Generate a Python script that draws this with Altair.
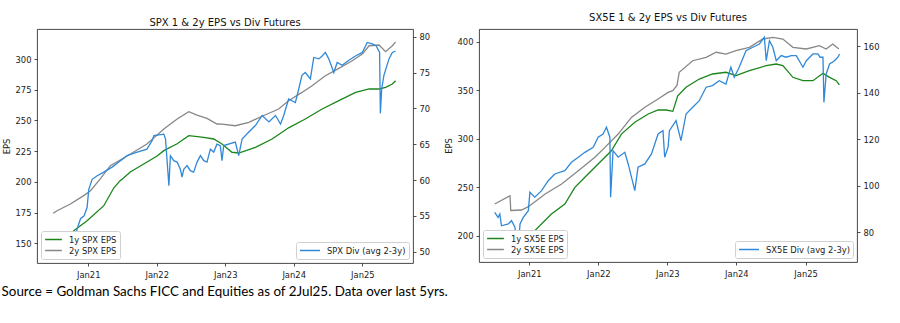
import altair as alt
import pandas as pd

# ---------------- SPX panel data ----------------
spx_eps1_dates = ["2020-06-28", "2020-08-15", "2020-10-16", "2020-12-26", "2021-03-25", "2021-05-17",
                  "2021-06-20", "2021-07-07", "2021-08-13", "2021-10-24", "2022-01-03", "2022-02-08",
                  "2022-04-20", "2022-06-21", "2022-09-09", "2022-11-01", "2022-12-15", "2023-02-06",
                  "2023-03-14", "2023-06-11", "2023-09-08", "2023-12-05", "2024-03-03", "2024-06-01",
                  "2024-08-29", "2024-11-26", "2025-02-06", "2025-03-31", "2025-05-05", "2025-06-10",
                  "2025-06-27"]
spx_eps1 = [143.0, 150.0, 160.3, 168.4, 180.6, 195.0, 201.0, 203.0, 208.0, 214.5, 221.0, 225.4,
            231.0, 237.6, 236.3, 234.9, 230.8, 224.1, 223.5, 228.1, 234.9, 244.0, 251.2, 259.3,
            266.1, 272.9, 275.6, 275.6, 277.0, 279.6, 282.3]

spx_eps2_dates = ["2020-06-28", "2020-07-19", "2020-09-28", "2020-12-08", "2021-01-13", "2021-03-05",
                  "2021-04-29", "2021-08-14", "2021-11-10", "2022-02-08", "2022-04-20", "2022-06-21",
                  "2022-08-04", "2022-09-26", "2022-11-18", "2022-12-15", "2023-02-24", "2023-05-07",
                  "2023-07-17", "2023-10-13", "2023-12-05", "2024-02-14", "2024-04-08", "2024-06-18",
                  "2024-08-29", "2024-11-08", "2025-01-01", "2025-02-06", "2025-03-31", "2025-05-05",
                  "2025-06-10", "2025-06-27"]
spx_eps2 = [174.4, 176.5, 182.0, 188.8, 192.8, 202.3, 213.2, 222.7, 230.8, 243.0, 251.2, 257.1,
            254.4, 251.7, 247.1, 247.0, 245.7, 248.5, 253.4, 259.3, 266.1, 272.8, 278.3, 286.4,
            292.4, 298.6, 304.0, 310.8, 311.4, 306.0, 310.8, 314.0]

spx_div_dates = ["2020-07-01", "2020-07-14", "2020-08-06", "2020-08-31", "2020-09-28", "2020-10-18",
                 "2020-11-03", "2020-11-21", "2020-12-10", "2020-12-26", "2021-01-04", "2021-01-22",
                 "2021-02-18", "2021-03-25", "2021-05-08", "2021-06-22", "2021-07-27", "2021-09-19",
                 "2021-11-10", "2021-12-08", "2021-12-17", "2022-01-12", "2022-02-08", "2022-02-17",
                 "2022-03-07", "2022-03-15", "2022-04-02", "2022-04-20", "2022-05-07", "2022-05-16",
                 "2022-05-25", "2022-06-12", "2022-06-29", "2022-07-17", "2022-08-04", "2022-08-22",
                 "2022-09-09", "2022-09-26", "2022-10-14", "2022-11-01", "2022-11-18", "2022-12-06",
                 "2022-12-15", "2022-12-24", "2023-02-24", "2023-03-14", "2023-04-01", "2023-05-07",
                 "2023-06-11", "2023-07-17", "2023-08-22", "2023-09-26", "2023-10-23", "2023-11-09",
                 "2023-12-05", "2024-01-10", "2024-01-28", "2024-02-14", "2024-03-03", "2024-03-30",
                 "2024-04-17", "2024-05-14", "2024-06-01", "2024-06-18", "2024-07-06", "2024-08-02",
                 "2024-08-20", "2024-09-15", "2024-10-21", "2024-11-26", "2025-01-01", "2025-01-27",
                 "2025-02-23", "2025-03-16", "2025-04-03", "2025-04-07", "2025-04-14", "2025-04-26",
                 "2025-05-23", "2025-06-10", "2025-06-27"]
spx_div = [51.3, 52.0, 50.1, 51.5, 52.0, 51.2, 53.2, 54.6, 55.0, 56.2, 58.7, 60.1,
           60.6, 61.1, 61.8, 62.7, 63.4, 63.9, 64.3, 65.5, 66.2, 66.3, 66.4, 65.7,
           59.2, 63.4, 62.7, 62.5, 61.5, 60.4, 61.5, 62.0, 61.3, 61.1, 62.5, 63.4,
           62.7, 62.5, 64.3, 63.9, 65.0, 64.8, 62.7, 64.8, 65.3, 63.4, 65.7, 66.7,
           67.6, 69.0, 68.1, 69.0, 67.8, 69.0, 71.3, 70.8, 72.7, 74.6, 75.0, 74.1,
           77.1, 76.9, 77.3, 77.8, 76.9, 75.0, 76.4, 76.0, 76.7, 77.3, 77.8, 79.2,
           79.0, 78.7, 77.8, 69.3, 72.7, 74.6, 76.9, 77.8, 78.0]

# ---------------- SX5E panel data ----------------
sx5e_eps1_dates = ["2020-07-02", "2020-09-06", "2020-10-29", "2021-01-30", "2021-04-28", "2021-07-08",
                   "2021-08-30", "2021-10-22", "2021-12-31", "2022-03-11", "2022-05-03", "2022-07-13",
                   "2022-09-22", "2022-11-13", "2022-12-26", "2023-01-30", "2023-02-25", "2023-04-10",
                   "2023-06-19", "2023-08-28", "2023-11-07", "2023-12-30", "2024-03-10", "2024-06-07",
                   "2024-07-30", "2024-09-03", "2024-10-26", "2024-12-18", "2025-02-09", "2025-04-03",
                   "2025-05-08", "2025-06-12", "2025-06-29"]
sx5e_eps1 = [184.0, 190.0, 197.0, 205.2, 222.4, 232.7, 249.9, 260.2, 273.9, 287.6, 304.8, 316.9,
             325.5, 329.6, 329.6, 328.2, 344.3, 353.0, 361.5, 366.7, 368.5, 365.0, 370.1, 375.3,
             377.0, 375.3, 363.3, 359.8, 359.8, 367.4, 363.3, 359.8, 355.4]

sx5e_eps2_dates = ["2020-07-02", "2020-09-21", "2020-09-25", "2020-11-21", "2020-12-27", "2021-03-26",
                   "2021-06-21", "2021-09-17", "2021-12-14", "2022-02-05", "2022-04-16", "2022-06-25",
                   "2022-09-04", "2022-11-13", "2023-01-05", "2023-01-30", "2023-02-21", "2023-03-05",
                   "2023-05-15", "2023-07-25", "2023-09-16", "2023-11-07", "2023-12-30", "2024-03-10",
                   "2024-05-20", "2024-07-12", "2024-09-03", "2024-10-26", "2025-01-05", "2025-03-15",
                   "2025-04-20", "2025-05-25", "2025-06-26"]
sx5e_eps2 = [232.7, 241.2, 226.0, 226.5, 229.9, 243.0, 253.3, 267.0, 280.8, 291.1, 304.8, 322.0,
             332.4, 340.9, 347.8, 349.5, 355.0, 368.5, 380.4, 383.9, 389.1, 387.3, 390.7, 394.2,
             402.8, 404.5, 402.8, 394.2, 392.5, 395.9, 392.5, 397.6, 392.5]

sx5e_div_dates = ["2020-07-02", "2020-07-20", "2020-07-29", "2020-08-07", "2020-09-12", "2020-09-29",
                  "2020-10-17", "2020-11-02", "2020-11-13", "2020-11-30", "2020-12-27", "2021-01-04",
                  "2021-01-30", "2021-03-07", "2021-04-11", "2021-05-16", "2021-07-08", "2021-08-12",
                  "2021-09-17", "2021-10-22", "2021-12-05", "2021-12-31", "2022-01-26", "2022-02-13",
                  "2022-03-03", "2022-03-07", "2022-03-20", "2022-04-16", "2022-05-21", "2022-06-08",
                  "2022-07-13", "2022-07-30", "2022-09-04", "2022-10-09", "2022-11-13", "2022-12-09",
                  "2022-12-18", "2023-01-05", "2023-01-12", "2023-02-16", "2023-03-14", "2023-04-10",
                  "2023-05-15", "2023-06-19", "2023-07-25", "2023-08-28", "2023-10-02", "2023-11-07",
                  "2023-12-03", "2023-12-21", "2024-01-16", "2024-02-21", "2024-03-28", "2024-05-02",
                  "2024-05-28", "2024-06-07", "2024-06-24", "2024-07-12", "2024-07-30", "2024-08-25",
                  "2024-09-20", "2024-10-17", "2024-11-13", "2024-12-18", "2025-01-05", "2025-02-09",
                  "2025-03-07", "2025-03-19", "2025-04-03", "2025-04-08", "2025-04-20", "2025-05-08",
                  "2025-06-03", "2025-06-21", "2025-06-30"]
sx5e_div = [88.6, 86.4, 87.9, 82.8, 83.6, 85.0, 82.2, 72.1, 83.6, 86.4, 89.3, 97.2,
            95.1, 97.9, 102.2, 105.1, 106.5, 110.1, 112.3, 114.4, 116.6, 120.9, 122.3, 125.2,
            120.9, 95.1, 115.1, 112.3, 114.4, 109.4, 97.9, 108.0, 109.4, 113.7, 122.3, 123.7,
            112.3, 116.6, 123.7, 128.0, 119.4, 130.9, 133.8, 136.6, 142.4, 143.1, 145.2, 143.8,
            151.0, 146.7, 151.0, 158.1, 159.6, 161.0, 163.9, 153.8, 162.4, 159.6, 153.8, 156.0,
            155.3, 156.0, 156.0, 151.0, 153.8, 156.7, 156.7, 155.3, 155.3, 135.9, 148.1, 152.4,
            153.8, 155.3, 156.7]

tick_years = [2021, 2022, 2023, 2024, 2025]

GREEN = "#1a861a"
GRAY = "#878787"
BLUE = "#3088d8"
FONT = "DejaVu Sans"
FS = 8.4


def long_df(pairs):
    frames = []
    for name, dates, vals in pairs:
        frames.append(pd.DataFrame({"date": dates, "value": vals, "series": name}))
    return pd.concat(frames, ignore_index=True)


def dt(y, m, d):
    return alt.DateTime(year=y, month=m, date=d, utc=True)


def panel(title, title_offset, eps_pairs, div_pair, x_dom, eps_dom, eps_ticks, div_dom, div_ticks, w, h):
    eps_df = long_df(eps_pairs)
    div_df = long_df([div_pair])
    x = alt.X("date:T",
              scale=alt.Scale(type="utc", domain=[dt(*x_dom[0]), dt(*x_dom[1])]),
              axis=alt.Axis(values=[dt(y, 1, 1) for y in tick_years], format="%b%y",
                            title=None, labelPadding=4))
    eps_names = [p[0] for p in eps_pairs]
    eps = alt.Chart(eps_df).mark_line(strokeWidth=1.3).encode(
        x=x,
        y=alt.Y("value:Q", scale=alt.Scale(domain=eps_dom, nice=False, zero=False),
                axis=alt.Axis(orient="left", title="EPS", values=eps_ticks, titlePadding=4)),
        color=alt.Color("series:N", scale=alt.Scale(domain=eps_names, range=[GREEN, GRAY]),
                        legend=alt.Legend(title=None, orient="bottom-left", offset=4,
                                          fillColor="white", strokeColor="#d0d0d0",
                                          cornerRadius=2, padding=3, symbolType="stroke",
                                          symbolSize=280, symbolStrokeWidth=1.5,
                                          labelOffset=6, clipHeight=11, rowPadding=0,
                                          labelFont=FONT, labelFontSize=FS, labelColor="#222")),
        order=alt.Order("date:T"),
    )
    div = alt.Chart(div_df).mark_line(strokeWidth=1.3).encode(
        x=x,
        y=alt.Y("value:Q", scale=alt.Scale(domain=div_dom, nice=False, zero=False),
                axis=alt.Axis(orient="right", title=None, values=div_ticks)),
        color=alt.Color("series:N", scale=alt.Scale(domain=[div_pair[0]], range=[BLUE]),
                        legend=alt.Legend(title=None, orient="bottom-right", offset=4,
                                          fillColor="white", strokeColor="#d0d0d0",
                                          cornerRadius=2, padding=3, symbolType="stroke",
                                          symbolSize=400, symbolStrokeWidth=1.5,
                                          labelOffset=6, clipHeight=11,
                                          labelFont=FONT, labelFontSize=FS, labelColor="#222")),
        order=alt.Order("date:T"),
    )
    return alt.layer(eps, div).resolve_scale(y="independent", color="independent").properties(
        width=w, height=h,
        title=alt.TitleParams(title, font=FONT, fontSize=10, fontWeight="normal", color="#111",
                              offset=title_offset),
    )


left = panel("SPX 1 & 2y EPS vs Div Futures", 1,
             [("1y SPX EPS", spx_eps1_dates, spx_eps1), ("2y SPX EPS", spx_eps2_dates, spx_eps2)],
             ("SPX Div (avg 2-3y)", spx_div_dates, spx_div),
             ((2020, 4, 3), (2025, 9, 28)), [133.97, 324.42], [150, 175, 200, 225, 250, 275, 300],
             [48.42, 81.07], [50, 55, 60, 65, 70, 75, 80], 376, 234)

right = panel("SX5E 1 & 2y EPS vs Div Futures", 6,
              [("1y SX5E EPS", sx5e_eps1_dates, sx5e_eps1), ("2y SX5E EPS", sx5e_eps2_dates, sx5e_eps2)],
              ("SX5E Div (avg 2-3y)", sx5e_div_dates, sx5e_div),
              ((2020, 4, 10), (2025, 9, 30)), [172.9, 413.1], [200, 250, 300, 350, 400],
              [67.23, 167.44], [80, 100, 120, 140, 160], 378, 233)

chart = alt.hconcat(left, right, spacing=66, bounds="flush").properties(
    title=alt.TitleParams("Source = Goldman Sachs FICC and Equities as of 2Jul25. Data over last 5yrs.",
                          orient="bottom", anchor="start", font="Lato", fontSize=13.4,
                          fontWeight="normal", color="#000", offset=6),
    padding={"left": 1, "top": 12, "right": 5, "bottom": 5},
    background="white",
).configure_view(
    stroke="#333", strokeWidth=0.9
).configure_axis(
    grid=False, domain=False, tickSize=3, tickColor="#222", tickWidth=0.8,
    labelFont=FONT, labelFontSize=FS, labelColor="#222", labelPadding=3,
    titleFont=FONT, titleFontSize=FS, titleFontWeight="normal", titleColor="#222",
)

chart.save("out.html", embed_options={"renderer": "svg", "actions": False})
